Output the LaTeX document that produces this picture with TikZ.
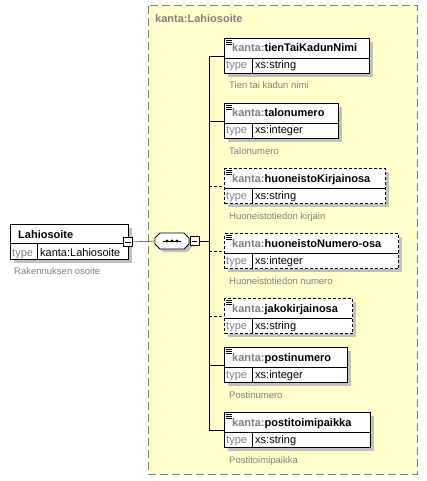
\documentclass[tikz,border=0pt]{standalone}
\usepackage{fontspec}
\setmainfont{Liberation Sans}
\definecolor{bgyellow}{HTML}{FFFFCC}
\definecolor{txtgrey}{HTML}{808080}
\definecolor{shgrey}{HTML}{C0C0C0}
\tikzset{
  elbox/.style={draw, fill=white, line width=1pt, inner sep=0pt, anchor=north west},
  optional/.style={dash pattern=on 3pt off 2pt},
  required/.style={solid},
  elname/.style={anchor=base west, inner sep=0pt, font=\fontsize{11}{13}\selectfont\bfseries},
  typetxt/.style={anchor=base west, inner sep=0pt, text=txtgrey, font=\fontsize{11}{13}\selectfont},
  typeval/.style={anchor=base west, inner sep=0pt, font=\fontsize{11}{13}\selectfont},
  desc/.style={anchor=base west, inner sep=0pt, text=txtgrey, font=\fontsize{9.5}{11}\selectfont},
  minusbox/.style={draw, fill=white, line width=0.8pt, minimum size=9pt, inner sep=0pt},
}
\begin{document}
\begin{tikzpicture}[x=1pt, y=-1pt]
\useasboundingbox (0,0) rectangle (427,481);

% Complex type area
\draw[txtgrey, fill=bgyellow, line width=1pt, dash pattern=on 8pt off 4pt] (148,6) rectangle (417,474);
\node[elname, text=txtgrey] (ctype) at (155,23) {kanta:Lahiosoite};

% Root element
\fill[shgrey] (14,228) rectangle +(118,35);
\node[elbox, minimum width=118, minimum height=35] (lahi) at (10,224) {};
\draw (10,243) -- (128,243);
\draw (37,243) -- (37,259);
\node[elname] (lahi-nm) at (18,238) {Lahiosoite};
\node[typetxt] (lahi-ty) at (12,256) {type};
\node[typeval] (lahi-val) at (40,256) {kanta:Lahiosoite};
\node[desc] (lahi-ds) at (14,274) {Rakennuksen osoite};
\node[minusbox] (lmin) at (128,242) {};
\draw ([xshift=2]lmin.west) -- ([xshift=-2]lmin.east);

% Sequence compositor
\node[minimum width=34, minimum height=16, inner sep=0pt] (seq) at (172,241) {};
\fill[shgrey] (163,236) -- (187,236) -- (192,241) -- (192,247) -- (187,252)
  -- (163,252) -- (158,247) -- (158,241) -- cycle;
\draw[fill=white, line width=0.8pt] (160,233) -- (184,233) -- (189,238) -- (189,244)
  -- (184,249) -- (160,249) -- (155,244) -- (155,238) -- cycle;
\draw[line width=0.8pt] (163,241) -- (181,241);
\foreach \dx in {167,172,177}
  \fill (\dx,241) circle (1.6);
\node[minusbox] (smin) at (194.5,241) {};
\draw ([xshift=2]smin.west) -- ([xshift=-2]smin.east);
\coordinate (bus) at (209,241);
\draw (lmin.east) -- (seq.west);
\draw (smin.east) -- (bus);

% Child elements
\foreach \id/\yy/\bw/\nm/\ty/\dtxt/\lstyle in {
  tien/38/145/tienTaiKadunNimi/string/Tien tai kadun nimi/required,
  talo/103/114/talonumero/integer/Talonumero/required,
  hkirj/168/161/huoneistoKirjainosa/string/Huoneistotiedon kirjain/optional,
  hnum/233/174/huoneistoNumero-osa/integer/Huoneistotiedon numero/optional,
  jako/298/128/jakokirjainosa/string//optional,
  pnum/347/123/postinumero/integer/Postinumero/required,
  ptp/412/146/postitoimipaikka/string/Postitoimipaikka/required}
{
  \fill[shgrey] (228,\yy+4) rectangle +(\bw,35);
  \node[elbox, \lstyle, minimum width=\bw, minimum height=35] (\id) at (224,\yy) {};
  \draw[line width=0.6pt] (224,\yy+20) -- +(\bw,0);
  \draw[line width=0.6pt] (252,\yy+20) -- (252,\yy+35);
  \foreach \k in {2,4,6}
    \draw[line width=0.6pt] (226,\yy+\k) -- +(6,0);
  \node[elname] (\id-nm) at (232,\yy+14) {\textcolor{txtgrey}{kanta:}\nm};
  \node[typetxt] (\id-ty) at (226,\yy+31) {type};
  \node[typeval] (\id-val) at (255,\yy+31) {xs:\ty};
  \node[desc] (\id-ds) at (229,\yy+51) {\dtxt};
  \draw[\lstyle, line width=0.8pt] (bus |- \id.west) -- (\id.west);
}
\draw[line width=0.8pt] (bus |- tien.west) -- (bus |- ptp.west);
\end{tikzpicture}
\end{document}
